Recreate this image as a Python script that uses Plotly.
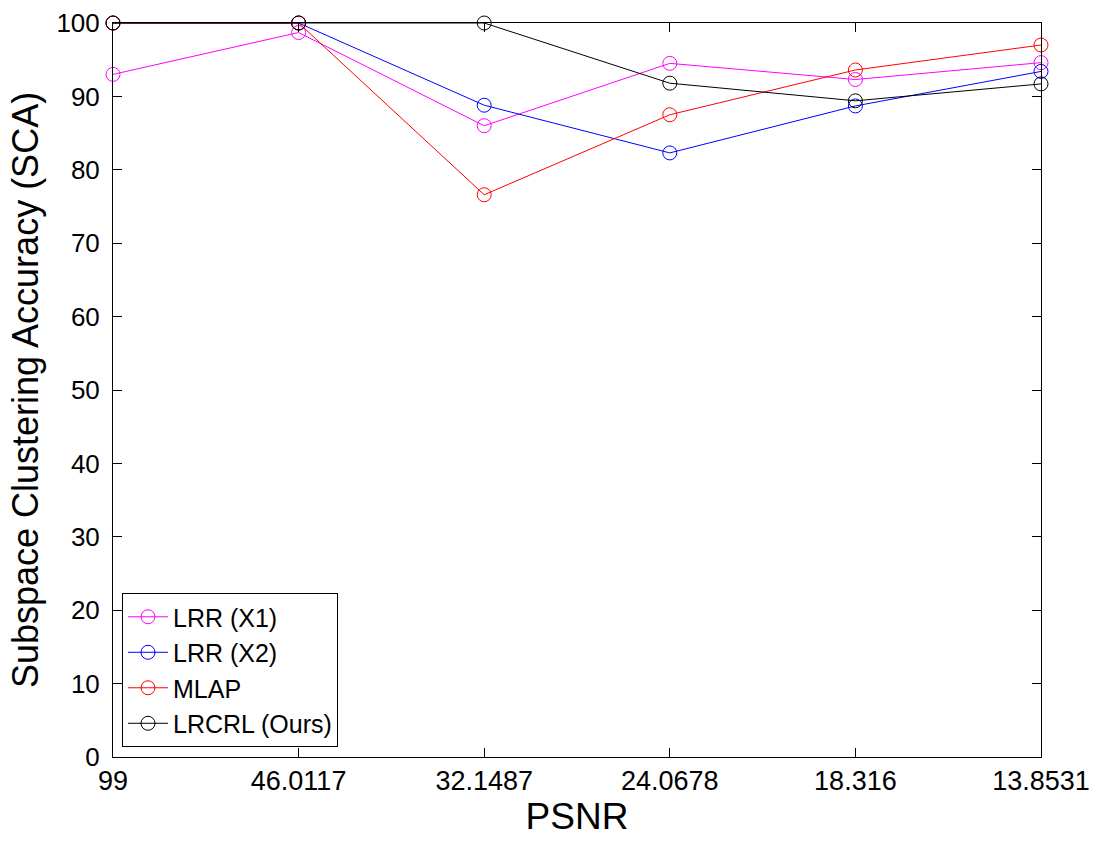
import plotly.graph_objects as go

psnr_labels = ["99", "46.0117", "32.1487", "24.0678", "18.316", "13.8531"]
lrr_x1 = [93.0, 98.7, 86.0, 94.5, 92.3, 94.6]
lrr_x2 = [100.0, 100.0, 88.8, 82.3, 88.7, 93.4]
mlap = [100.0, 100.0, 76.6, 87.5, 93.6, 97.0]
lrcrl = [100.0, 100.0, 100.0, 91.8, 89.4, 91.7]

series = [
    ("LRR (X1)", lrr_x1, "#ff00ff"),
    ("LRR (X2)", lrr_x2, "#0000ff"),
    ("MLAP", mlap, "#ff0000"),
    ("LRCRL (Ours)", lrcrl, "#000000"),
]

x = list(range(len(psnr_labels)))
fig = go.Figure()
for name, vals, col in series:
    fig.add_trace(go.Scatter(
        x=x, y=vals, name=name, mode="lines+markers",
        line=dict(color=col, width=1),
        marker=dict(symbol="circle-open", size=14, color=col, line=dict(width=1, color=col)),
        cliponaxis=False,
    ))

fig.update_layout(
    width=1103, height=842,
    margin=dict(l=113, r=62, t=23, b=85, autoexpand=False),
    plot_bgcolor="white", paper_bgcolor="white",
    font=dict(family="Liberation Sans, Arial, sans-serif", color="black"),
    showlegend=True,
    legend=dict(
        x=0.0097, y=0.0136, xanchor="left", yanchor="bottom",
        bgcolor="white", bordercolor="black", borderwidth=1,
        font=dict(size=25, family="Liberation Sans, Arial, sans-serif"),
        tracegroupgap=0, itemwidth=40,
    ),
)
fig.update_xaxes(
    range=[0, 5], tickvals=x, ticktext=psnr_labels,
    showgrid=False, zeroline=False, automargin=False,
    showline=True, linecolor="black", linewidth=1, mirror="ticks",
    ticks="inside", ticklen=9, tickcolor="black",
    tickfont=dict(size=27),
    ticklabelstandoff=0,
    title=dict(text="PSNR", font=dict(size=37), standoff=0),
)
fig.update_yaxes(
    range=[0, 100], tickvals=list(range(0, 101, 10)),
    showgrid=False, zeroline=False, automargin=False,
    showline=True, linecolor="black", linewidth=1, mirror="ticks",
    ticks="inside", ticklen=9, tickcolor="black",
    tickfont=dict(size=26),
    ticklabelstandoff=7,
    title=dict(text="Subspace Clustering Accuracy (SCA)", font=dict(size=36), standoff=6),
)

fig.write_html("out.html")
